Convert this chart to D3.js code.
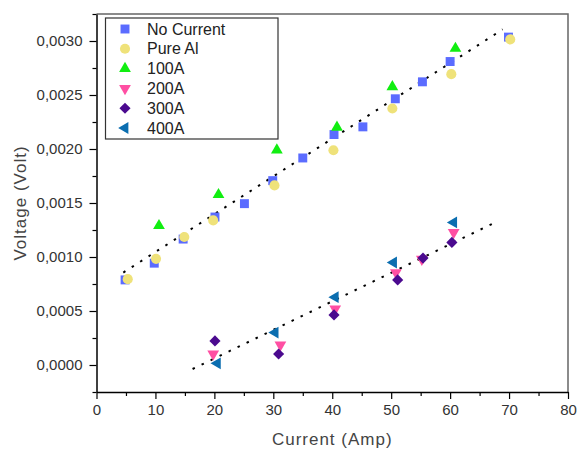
<!DOCTYPE html>
<html>
<head>
<meta charset="utf-8">
<script src="https://cdn.jsdelivr.net/npm/d3@7"></script>
<style>
  body { margin: 0; background: #fff; }
  text { font-family: "Liberation Sans", Arial, sans-serif; }
</style>
</head>
<body>
<svg id="chart" width="578" height="450"></svg>
<script>
// series: [current, voltage]
const noCurrent = [[4.85,0.000788],[9.8,0.000943],[14.7,0.001166],[20.1,0.00137],[25.1,0.001494],[29.9,0.001707],
    [35,0.001917],[40.3,0.002134],[45.2,0.002205],[50.7,0.002465],[55.3,0.002622],[60,0.00281],[69.9,0.003036]];
const pureAl = [[5.3,0.000795],[10.1,0.000983],[14.9,0.001185],[19.8,0.001339],[30.2,0.001663],[40.2,0.001988],
    [50.2,0.002375],[60.2,0.002693],[70.2,0.003015]];
const a100 = [[10.6,0.00129],[20.7,0.001577],[30.6,0.00199],[40.8,0.0022],[50.2,0.002576],[60.9,0.002931]];
const a200 = [[19.8,0.000102],[31.2,0.000186],[40.5,0.00052],[50.8,0.000856],[55.2,0.00098],[60.6,0.001227]];
const a300 = [[20.1,0.000223],[30.9,0.000102],[40.3,0.000464],[51.1,0.000788],[55.4,0.00099],[60.3,0.001135]];
const a400 = [[20.5,0.000016],[30.3,0.0003],[40.5,0.000628],[50.4,0.000949],[60.6,0.00132]];

// dotted fit lines, endpoints
const fitUpper = [[4.55,0.000856],[68.9,0.003107]];
const fitLower = [[16.3,-0.000037],[67.4,0.001314]];

const seriesNames = ["No Current","Pure Al","100A","200A","300A","400A"];
const xTicks = [0,10,20,30,40,50,60,70,80];
const yTicks = [0,0.0005,0.001,0.0015,0.002,0.0025,0.003];

const series = [
  {name: seriesNames[0], data: noCurrent, color: "#5b6cff", type: d3.symbolSquare, size: 80, rot: 0},
  {name: seriesNames[1], data: pureAl, color: "#efe27a", type: d3.symbolCircle, size: 80, rot: 0},
  {name: seriesNames[2], data: a100, color: "#11ee11", type: d3.symbolTriangle, size: 60, rot: 0},
  {name: seriesNames[3], data: a200, color: "#ff4fa3", type: d3.symbolTriangle, size: 60, rot: 180},
  {name: seriesNames[4], data: a300, color: "#4b0a8f", type: d3.symbolSquare, size: 62, rot: 45},
  {name: seriesNames[5], data: a400, color: "#0b6eb0", type: d3.symbolTriangle, size: 60, rot: -90}
];

const pLeft = 96.5, pRight = 568, pTop = 14, pBottom = 392;

const x = d3.scaleLinear().domain([0, 80]).range([pLeft, pRight]);
const y = d3.scaleLinear().domain([-0.00025, 0.00325]).range([pBottom, pTop]);

const svg = d3.select("#chart");

// frame top/right
svg.append("path")
    .attr("d", `M${pLeft},${pTop}H${pRight}V${pBottom}`)
    .attr("fill", "none")
    .attr("stroke", "#666")
    .attr("stroke-width", 1.5);

const fmt = d => d3.format(".4f")(d).replace(".", ",");

// minor ticks
svg.append("g")
    .attr("transform", `translate(${pLeft},0)`)
    .call(d3.axisLeft(y).tickValues(d3.range(-0.00025, 0.0033, 0.0005)).tickSize(4).tickFormat(""))
    .call(g => g.select(".domain").remove());
svg.append("g")
    .attr("transform", `translate(0,${pBottom})`)
    .call(d3.axisBottom(x).tickValues(d3.range(5, 80, 10)).tickSize(4).tickFormat(""))
    .call(g => g.select(".domain").remove());

const yAxis = svg.append("g")
    .attr("transform", `translate(${pLeft},0)`)
    .call(d3.axisLeft(y).tickValues(yTicks).tickSize(7).tickSizeOuter(0).tickPadding(7).tickFormat(fmt));
yAxis.selectAll("text").style("font-size", "15px").attr("fill", "#333");

const xAxis = svg.append("g")
    .attr("transform", `translate(0,${pBottom})`)
    .call(d3.axisBottom(x).tickValues(xTicks).tickSize(7).tickSizeOuter(0).tickPadding(5));
xAxis.selectAll("text").style("font-size", "15px").attr("fill", "#333");

svg.selectAll(".domain").attr("stroke-width", 1.5);
svg.selectAll(".tick line").attr("stroke-width", 1.2);

// axis titles
svg.append("text")
    .attr("x", (pLeft + pRight) / 2)
    .attr("y", 445)
    .attr("text-anchor", "middle")
    .style("font-size", "17px")
    .style("letter-spacing", "1px")
    .attr("fill", "#444")
    .text("Current (Amp)");

svg.append("text")
    .attr("transform", `translate(26,${(pTop + pBottom) / 2}) rotate(-90)`)
    .attr("text-anchor", "middle")
    .style("font-size", "17px")
    .style("letter-spacing", "1px")
    .attr("fill", "#444")
    .text("Voltage (Volt)");

// fit lines
const line = d3.line().x(d => x(d[0])).y(d => y(d[1]));
[fitUpper, fitLower].forEach(f => {
  svg.append("path")
      .attr("d", line(f))
      .attr("fill", "none")
      .attr("stroke", "#000")
      .attr("stroke-width", 2)
      .attr("stroke-dasharray", "2.5,7.5");
});

// points
series.forEach(s => {
  const sym = d3.symbol().type(s.type).size(s.size);
  svg.append("g").selectAll("path")
      .data(s.data)
      .enter().append("path")
      .attr("d", sym)
      .attr("transform", d => `translate(${x(d[0])},${y(d[1])}) rotate(${s.rot})`)
      .attr("fill", s.color);
});

// legend
const legend = svg.append("g");
legend.append("rect")
    .attr("x", 105.5).attr("y", 18)
    .attr("width", 172.5).attr("height", 121)
    .attr("fill", "#fff")
    .attr("stroke", "#333")
    .attr("stroke-width", 1.2);

series.forEach((s, i) => {
  const cy = 29 + i * 19.8;
  legend.append("path")
      .attr("d", d3.symbol().type(s.type).size(s.size)())
      .attr("transform", `translate(125,${cy}) rotate(${s.rot})`)
      .attr("fill", s.color);
  legend.append("text")
      .attr("x", 147)
      .attr("y", cy + 5.5)
      .style("font-size", "16px")
      .attr("fill", "#222")
      .text(s.name);
});
</script>
</body>
</html>
